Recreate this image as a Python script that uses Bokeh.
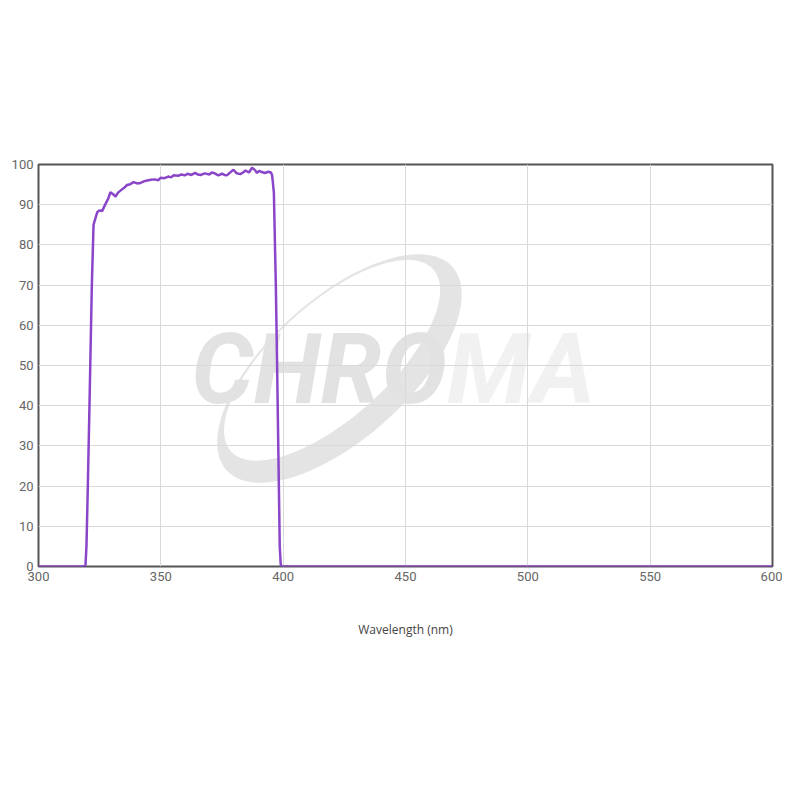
import numpy as np
from bokeh.plotting import figure
from bokeh.models import Range1d, FixedTicker
from bokeh.core.properties import value
from bokeh.embed import file_html
from bokeh.resources import INLINE

# ---- data ----
wavelength = [300, 310, 318, 319.2, 319.6, 320.2, 321.0, 321.8, 322.5, 323.2, 324.0,
              325.0, 326.0, 327.4, 328.5, 329.4, 330.5, 331.5, 332.5, 333.5, 335.0,
              336.2, 337.5, 338.9, 340.3, 341.7, 343.0, 344.4, 346.0, 347.5, 349.0,
              349.9, 351.5, 353.0, 354.2, 355.3, 357.0, 358.5, 359.8, 360.9, 362.5,
              364.0, 365.2, 366.2, 368.0, 369.8, 370.8, 371.6, 373.5, 375.0, 376.0,
              377.0, 378.5, 379.7, 381.0, 382.5, 383.6, 384.6, 386.0, 387.3, 388.5,
              389.3, 390.2, 391.0, 392.5, 394.0, 395.0, 395.5, 396.2, 397.0, 397.5,
              398.0, 398.6, 399.0, 399.5, 400, 450, 500, 550, 600]
transmission = [0, 0, 0, 0.3, 5, 21, 45, 70, 85, 86.5, 88.1,
                88.6, 88.4, 90.2, 91.5, 93.1, 92.6, 92.0, 93.0, 93.5, 94.2,
                94.9, 95.1, 95.6, 95.3, 95.4, 95.8, 96.0, 96.2, 96.3, 96.1,
                96.7, 96.6, 97.0, 96.8, 97.3, 97.2, 97.5, 97.3, 97.7, 97.4,
                97.9, 97.5, 97.4, 97.8, 97.5, 98.0, 97.9, 97.3, 97.7, 97.4,
                97.3, 98.1, 98.7, 97.8, 97.6, 98.0, 98.5, 98.0, 99.2, 98.6,
                97.9, 98.4, 98.2, 97.9, 98.2, 98.0, 97.3, 93.0, 70, 51,
                30, 5, 0.5, 0, 0, 0, 0, 0, 0]

x_ticks = [300, 350, 400, 450, 500, 550, 600]
y_ticks = [0, 10, 20, 30, 40, 50, 60, 70, 80, 90, 100]

FRAME_W, FRAME_H = 734, 402

p = figure(width=782, height=668, output_backend="svg", toolbar_location=None,
           x_range=Range1d(300, 600), y_range=Range1d(0, 100),
           frame_width=FRAME_W, frame_height=FRAME_H,
           min_border_left=38, min_border_right=10, min_border_top=164,
           min_border_bottom=10)
p.background_fill_color = "white"
p.border_fill_color = "white"
p.outline_line_color = "#555555"
p.outline_line_width = 2

# ---- watermark (drawn below the grid) ----
pxx = (600 - 300) / FRAME_W   # nm per pixel
pxy = 100 / FRAME_H           # % per pixel
cx, cy = 423.0, 49.25
th = np.deg2rad(42)
u = np.array([np.cos(th), np.sin(th)])      # major axis (up-right)
v = np.array([np.sin(th), -np.cos(th)])     # minor axis (down-right)
t = np.linspace(0, 2 * np.pi, 200)

def ell(a, b, off):
    X = a * np.cos(t)[:, None] * u + b * np.sin(t)[:, None] * v + off * v
    return list(cx + X[:, 0] * pxx), list(cy + X[:, 1] * pxy)

ox, oy = ell(152, 70, 0)
ix, iy = ell(136, 57, -11)
wm = p.multi_polygons(xs=[[[ox, ix]]], ys=[[[oy, iy]]], fill_color="#e4e4e4",
                      line_color=None)
wm.level = "image"

t1 = p.text(x=[467], y=[49.0], text=["CHRO"], text_align="right",
            text_baseline="middle", text_font=value("Roboto"),
            text_font_style="bold italic", text_font_size="98px",
            text_color="#e2e2e2")
t1.level = "image"
t2 = p.text(x=[467], y=[49.0], text=["MA"], text_align="left",
            text_baseline="middle", text_font=value("Roboto"),
            text_font_style="bold italic", text_font_size="98px",
            text_color="#f1f1f1")
t2.level = "image"

# ---- data line ----
p.line(wavelength, transmission, line_color="#8A45C9", line_width=2.5)

# ---- axes & grid ----
for ax in (p.xaxis[0], p.yaxis[0]):
    ax.axis_line_color = None
    ax.major_tick_line_color = None
    ax.minor_tick_line_color = None
    ax.major_tick_in = 0
    ax.major_tick_out = 0
    ax.major_label_text_font = "Roboto"
    ax.major_label_text_font_size = "13px"
    ax.major_label_text_color = "#666666"
    ax.major_label_standoff = 5

p.xaxis.ticker = FixedTicker(ticks=x_ticks)
p.yaxis.ticker = FixedTicker(ticks=y_ticks)
p.xaxis.axis_label = "Wavelength (nm)"
p.xaxis.axis_label_text_font = "Open Sans"
p.xaxis.axis_label_text_font_style = "normal"
p.xaxis.axis_label_text_font_size = "12px"
p.xaxis.axis_label_text_color = "#444444"
p.xaxis.axis_label_standoff = 37

p.xgrid.grid_line_color = "#d9d9d9"
p.ygrid.grid_line_color = "#d9d9d9"
p.xgrid.grid_line_width = 1
p.ygrid.grid_line_width = 1

open("out.html", "w").write(file_html(p, INLINE))
